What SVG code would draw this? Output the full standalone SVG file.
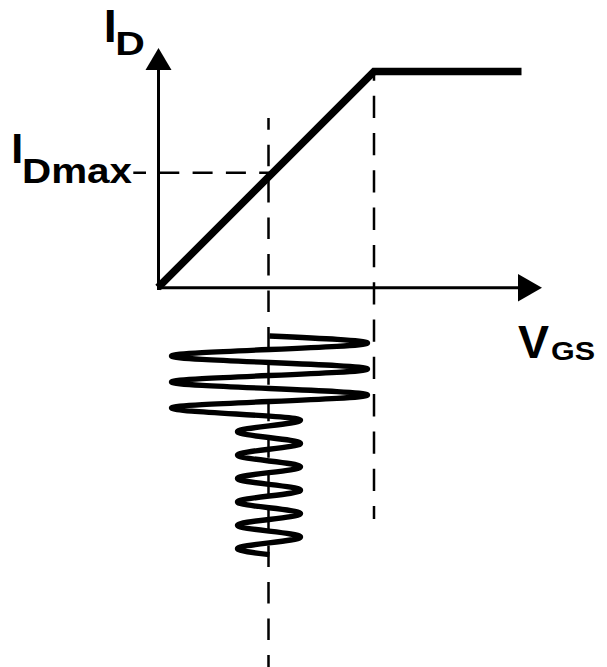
<svg xmlns="http://www.w3.org/2000/svg" width="607" height="667" viewBox="0 0 607 667">
<style>
.lbl{font-family:"Liberation Sans",Arial,sans-serif;font-weight:bold;fill:#000}
.axis{stroke:#000;stroke-width:3;fill:none}
.dash{stroke:#000;stroke-width:2.5;fill:none}
</style>
<rect width="607" height="667" fill="#fff"/>
<g id="guides">
<path class="dash" d="M268.5 118 V667" stroke-dasharray="21.5 14.95" stroke-dashoffset="9.8"/>
<path class="dash" d="M374 70 V519" stroke-dasharray="22.3 15" stroke-dashoffset="11.6"/>
<path class="dash" d="M133.3 172.7 H270" stroke-dasharray="20 13.3" stroke-dashoffset="7.3"/>
</g>
<g id="axes">
<path class="axis" d="M158.5 290 V68"/>
<polygon points="158.5,48 145.5,70 171.5,70" fill="#000"/>
<path class="axis" d="M157 287.7 H520"/>
<polygon points="542,287.7 518,274 518,301.5" fill="#000"/>
</g>
<g id="transfer-curve">
<path d="M158 287.5 L374 71.5 H521.5" fill="none" stroke="#000" stroke-width="7.5" stroke-linejoin="miter"/>
</g>
<g id="input-signal">
<path fill="none" stroke="#000" stroke-width="5.4" d="M269.5 336 C319.7 338.3 367.5 340.5 367.5 343 C367.5 347.7 171.5 351.3 171.5 356 C171.5 360.7 367.5 364.3 367.5 369 C367.5 373.7 171.5 377.3 171.5 382 C171.5 386.7 367.5 390.3 367.5 395 C367.5 399.7 171.5 403.3 171.5 408 C171.5 412.4 300.5 415.6 300.5 420 C300.5 424.3 237.5 427.4 237.5 431.7 C237.5 435.9 300.5 439.1 300.5 443.4 C300.5 447.7 237.5 450.8 237.5 455.1 C237.5 459.4 300.5 462.5 300.5 466.8 C300.5 471.1 237.5 474.2 237.5 478.5 C237.5 482.8 300.5 485.9 300.5 490.2 C300.5 494.5 237.5 497.6 237.5 501.9 C237.5 506.2 300.5 509.3 300.5 513.6 C300.5 517.9 237.5 521 237.5 525.3 C237.5 529.6 300.5 532.7 300.5 537 C300.5 541.3 237.5 544.4 237.5 548.7 C237.5 550.8 253.4 552.7 269.5 554.6"/>
</g>
<g id="labels">
<text class="lbl" x="103.7" y="41.7" font-size="46.5">I</text>
<text class="lbl" x="115.3" y="55" font-size="32.5" textLength="29.6" lengthAdjust="spacingAndGlyphs">D</text>
<text class="lbl" x="11.2" y="163.3" font-size="43">I</text>
<text class="lbl" x="22" y="183.3" font-size="35" textLength="110" lengthAdjust="spacingAndGlyphs">Dmax</text>
<text class="lbl" x="518" y="358.3" font-size="46.5">V</text>
<text class="lbl" x="551" y="360" font-size="25" textLength="44" lengthAdjust="spacingAndGlyphs">GS</text>
</g>
</svg>
